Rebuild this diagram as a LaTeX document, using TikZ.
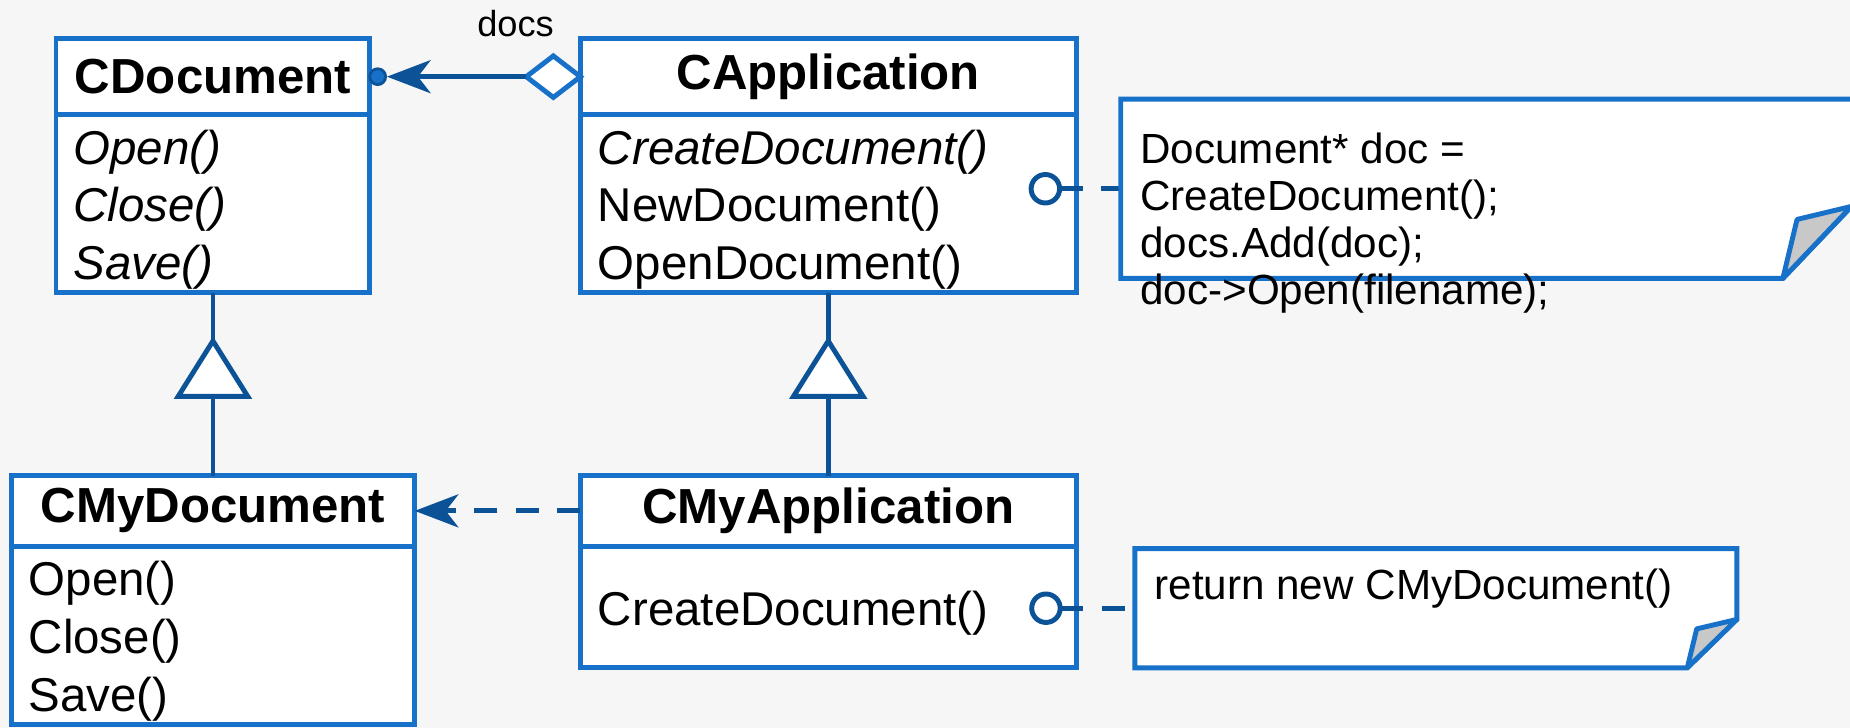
\documentclass[tikz,border=0pt]{standalone}
\usepackage{fontspec}
\setmainfont{Liberation Sans}
\usepackage{tikz}
\usetikzlibrary{shapes, arrows.meta, positioning, calc}

\definecolor{boxblue}{RGB}{24,113,200}
\definecolor{linkblue}{RGB}{12,82,150}
\definecolor{foldgray}{RGB}{200,200,200}
\definecolor{bgcol}{RGB}{246,246,246}

\begin{document}
\begin{tikzpicture}[x=0.011798cm, y=-0.011798cm,
  cls/.style={draw=boxblue, line width=1.4pt, fill=white, outer sep=0pt, inner sep=0pt, font=\fontsize{14}{16}\selectfont\bfseries},
  ops/.style={draw=boxblue, line width=1.4pt, fill=white, outer sep=0pt, inner xsep=5pt, inner ysep=0pt, align=left, font=\fontsize{13.5}{16.4}\selectfont, execute at begin node={\rule{0pt}{13.2pt}}},
  link/.style={draw=linkblue, line width=1.4pt},
  dep/.style={link, dash pattern=on 6.6pt off 5.2pt},
  tip/.style={-{Stealth[length=12.4pt, width=9.4pt, inset=3.6pt]}},
  lolli/.style={circle, draw=linkblue, line width=1.4pt, fill=white, minimum size=8.1pt, inner sep=0pt, outer sep=0pt},
  note/.style={inner sep=0pt, outer sep=0pt},
  notetext/.style={inner sep=0pt, align=left, font=\fontsize{12}{13.4}\selectfont},
  noteline/.style={draw=boxblue, line width=1.4pt, fill=white},
  fold/.style={draw=boxblue, line width=1.4pt, fill=foldgray, line join=round}]

 \useasboundingbox (0,0) rectangle (1568,617);
 \fill[bgcol] (0,0) rectangle (1568,617);
 \clip (0,0) rectangle (1568,617);

 \node[cls, minimum width=89.3pt, minimum height=21.5pt] (cdoc) at (180.5,65) {CDocument};
 \node[ops, below=0pt of cdoc, text width=79.3pt, minimum height=50.7pt] (cdocops) {\itshape Open()\\ Close()\\ Save()};
 \node[cls, minimum width=141pt, minimum height=21.5pt] (capp) at (702,65) {CApplication};
 \node[ops, below=0pt of capp, text width=131pt, minimum height=50.7pt] (cappops) {\textit{CreateDocument()}\\ NewDocument()\\ OpenDocument()};
 \node[cls, minimum width=114.8pt, minimum height=20.1pt] (cmydoc) at (180.5,433) {CMyDocument};
 \node[ops, below=0pt of cmydoc, text width=104.8pt, minimum height=50.7pt] (cmydocops) {Open()\\ Close()\\ Save()};
 \node[cls, minimum width=141pt, minimum height=20.1pt] (cmyapp) at (702,433) {CMyApplication};
 \node[ops, below=0pt of cmyapp, text width=131pt, minimum height=34.6pt] (cmyappops) {CreateDocument()};

 \node[note, minimum width=208.8pt, minimum height=51pt] (note1) at (1261,160) {};
 \node[note, minimum width=171.2pt, minimum height=33.9pt] (note2) at (1217,515.5) {};
 \node[lolli] (ball1) at (886,160) {};
 \node[lolli] (ball2) at (886.5,515.5) {};

 \draw[dep] (ball1.east) -- (note1.west);
 \draw[dep] (ball2.east) -- (note2.west);
 \draw[noteline] (note1.north west) -- (note1.north east) -- ($(note1.south east)+(0,-64)$) -- ($(note1.south east)+(-61,0)$) -- (note1.south west) -- cycle;
 \draw[fold] ($(note1.south east)+(-61,0)$) -- ($(note1.south east)+(-49,-50)$) -- ($(note1.south east)+(-3,-61)$) -- cycle;
 \draw[noteline] (note2.north west) -- (note2.north east) -- ($(note2.south east)+(0,-41)$) -- ($(note2.south east)+(-42,0)$) -- (note2.south west) -- cycle;
 \draw[fold] ($(note2.south east)+(-42,0)$) -- ($(note2.south east)+(-34,-33)$) -- ($(note2.south east)+(0,-41)$) -- cycle;
 \node[notetext, below right=9.4pt and 5.4pt of note1.north west] (note1txt) {Document* doc =\\ CreateDocument();\\ docs.Add(doc);\\ doc->Open(filename);};
 \node[notetext, below right=5.7pt and 5.4pt of note2.north west] (note2txt) {return new CMyDocument()};

 \node[diamond, draw=boxblue, line width=1.4pt, fill=white, minimum width=15.4pt, minimum height=11.8pt, inner sep=0pt, outer sep=0pt, anchor=east] (agg) at (capp.west) {};
 \node[circle, fill=boxblue, draw=linkblue, line width=0.8pt, minimum size=4.5pt, inner sep=0pt] (dot) at ([xshift=2.2pt]cdoc.east) {};
 \draw[link, tip] (agg.west) -- (dot.east);
 \node[font=\fontsize{10.3}{12}\selectfont] (docs) at (437,20) {docs};

 \draw[dep, tip] (cmyapp.west) -- (cmydoc.east);

 \draw[link] (cmydoc.north) -- (cdocops.south);
 \draw[link, fill=white] (151,336) -- (180.5,289) -- (210,336) -- cycle;
 \draw[link] (cmyapp.north) -- (cappops.south);
 \draw[link, fill=white] (672.5,336) -- (702,289) -- (731.5,336) -- cycle;
\end{tikzpicture}
\end{document}
